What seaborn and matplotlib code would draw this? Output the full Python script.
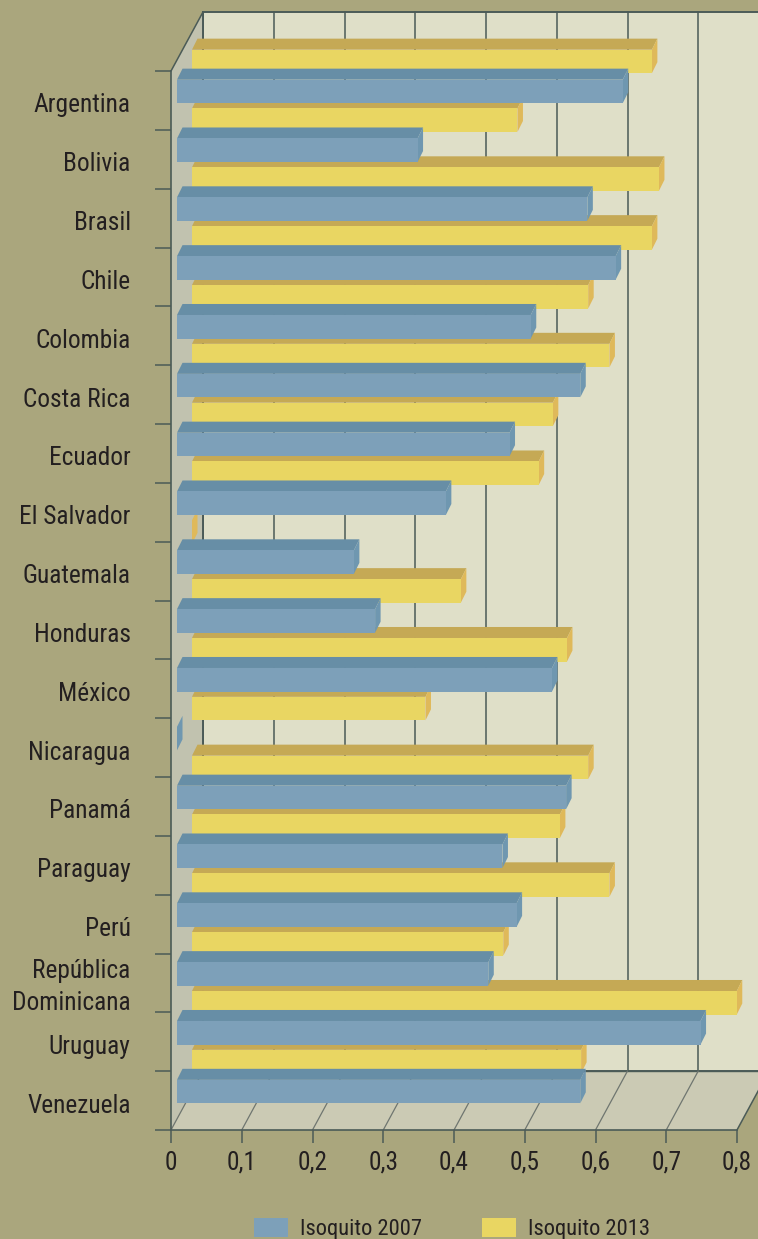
import matplotlib
matplotlib.use('Agg')
import matplotlib.pyplot as plt
from matplotlib.patches import Polygon, Patch, Rectangle
from matplotlib.transforms import Affine2D, IdentityTransform
import pandas as pd
import seaborn as sns

paises = ['Argentina', 'Bolivia', 'Brasil', 'Chile', 'Colombia', 'Costa Rica', 'Ecuador',
          'El Salvador', 'Guatemala', 'Honduras', 'México', 'Nicaragua', 'Panamá',
          'Paraguay', 'Perú', 'República\nDominicana', 'Uruguay', 'Venezuela']
isoquito_2007 = [0.63, 0.34, 0.58, 0.62, 0.50, 0.57, 0.47, 0.38, 0.25, 0.28, 0.53, 0.0,
                 0.55, 0.46, 0.48, 0.44, 0.74, 0.57]
isoquito_2013 = [0.65, 0.46, 0.66, 0.65, 0.56, 0.59, 0.51, 0.49, 0.0, 0.38, 0.53, 0.33,
                 0.56, 0.52, 0.59, 0.44, 0.77, 0.55]
x_ticks = [0, 0.1, 0.2, 0.3, 0.4, 0.5, 0.6, 0.7, 0.8]
x_labels = ['0', '0,1', '0,2', '0,3', '0,4', '0,5', '0,6', '0,7', '0,8']

W, H = 758, 1239
FONDO = '#aaa67d'
PARED = '#dfdfc8'
PISO = '#cbcab4'
PARED_IZQ = '#c1c2af'
LINEA = '#4b5b57'
TEXTO = '#231f20'
AZUL = ('#7da0b9', '#678ea6', '#6f97b0')    # front, top, side
AMARILLO = ('#e9d662', '#c5a955', '#dfb95a')
FONDO_DX, FONDO_DY = 32, 59    # depth of the whole box in pixels
BAR_DX, BAR_DY = 5.5, 11       # depth of one bar in pixels
FS = 18.3
FS_LEYENDA = 16.2

sns.set_theme(style='white')
plt.rcParams['font.family'] = ['Roboto Condensed', 'Archivo Narrow', 'Roboto', 'DejaVu Sans']

fig = plt.figure(figsize=(W / 100, H / 100), dpi=100, facecolor=FONDO)
ax = fig.add_axes([171 / W, 1 - 1130 / H, (737 - 171) / W, (1130 - 71) / H])
ax.set_facecolor('none')

df = pd.DataFrame({'pais': paises, 'i2007': isoquito_2007, 'i2013': isoquito_2013})
sns.barplot(data=df, x='i2013', y='pais', order=paises, orient='h', color=AMARILLO[0],
            saturation=1, width=0.4, linewidth=0, ax=ax)
sns.barplot(data=df, x='i2007', y='pais', order=paises, orient='h', color=AZUL[0],
            saturation=1, width=0.4, linewidth=0, ax=ax)
ax.set_xlim(0, 0.8)
ax.set_ylim(17.5, -0.5)
ax.set_xlabel('')
ax.set_ylabel('')


def poly(puntos, color, z):
    p = Polygon(puntos, closed=True, facecolor=color, edgecolor='none', linewidth=0,
                transform=IdentityTransform(), zorder=z, clip_on=False)
    ax.add_patch(p)


def linea(xs, ys, color=LINEA, lw=1.1):
    ax.plot(xs, ys, color=color, lw=lw, transform=IdentityTransform(), zorder=1, clip_on=False)


# box: back wall, left wall, floor (corners come from the axes, pushed back by the depth)
(x0, y0), (x1, y1) = ax.transAxes.transform([(0, 0), (1, 1)])
caja = ax.transAxes + Affine2D().translate(FONDO_DX, FONDO_DY)
ax.add_patch(Rectangle((0, 0), 1, 1, transform=caja, facecolor=PARED, edgecolor=LINEA,
                       linewidth=1.4, zorder=0.5, clip_on=False))
poly([(x0, y0), (x1, y0), (x1 + FONDO_DX, y0 + FONDO_DY), (x0 + FONDO_DX, y0 + FONDO_DY)], PISO, 0.6)
poly([(x0, y0), (x0, y1), (x0 + FONDO_DX, y1 + FONDO_DY), (x0 + FONDO_DX, y0 + FONDO_DY)], PARED_IZQ, 0.6)
linea([x0, x0 + FONDO_DX], [y1, y1 + FONDO_DY])
linea([x1, x1 + FONDO_DX], [y0, y0 + FONDO_DY])
linea([x0 + FONDO_DX, x0 + FONDO_DX], [y0 + FONDO_DY, y1 + FONDO_DY], lw=1.4)
linea([x0 + FONDO_DX, x1 + FONDO_DX], [y0 + FONDO_DY, y0 + FONDO_DY], lw=1.0)

# grid on the wall and on the floor
for t in x_ticks[:-1]:
    px = ax.transData.transform((t, 17.5))[0]
    if t > 0:
        linea([px + FONDO_DX, px + FONDO_DX], [y0 + FONDO_DY, y1 + FONDO_DY])
    linea([px, px + FONDO_DX], [y0, y0 + FONDO_DY], color='#6f7670', lw=0.9)


def caras(container, dx, dy, colores, z):
    desplazar = Affine2D().translate(dx, dy)
    for bar in container:
        xa, ya = ax.transData.transform((bar.get_x(), bar.get_y() + bar.get_height()))
        xb, yb = ax.transData.transform((bar.get_x() + bar.get_width(), bar.get_y()))
        xa, xb = xa + dx, xb + dx
        ya, yb = ya + dy, yb + dy
        # top face, side face, then the front bar itself moved to its depth
        poly([(xa, yb), (xb, yb), (xb + BAR_DX, yb + BAR_DY), (xa + BAR_DX, yb + BAR_DY)], colores[1], z)
        poly([(xb, ya), (xb, yb), (xb + BAR_DX, yb + BAR_DY), (xb + BAR_DX, ya + BAR_DY)], colores[2], z)
        bar.set_transform(ax.transData + desplazar)
        bar.set_clip_on(False)
        bar.set_zorder(z + 0.1)


caras(ax.containers[0], 21, 39, AMARILLO, 3)
caras(ax.containers[1], 6, 9, AZUL, 4)

# axes
sns.despine(ax=ax, top=True, right=True)
for lado in ['left', 'bottom']:
    ax.spines[lado].set_color(LINEA)
    ax.spines[lado].set_linewidth(1.2)
    ax.spines[lado].set_zorder(2)
ax.set_xticks(x_ticks)
ax.set_xticklabels(x_labels)
ax.set_yticks([i - 0.5 for i in range(19)], minor=True)
ax.tick_params(axis='y', which='minor', left=True, length=11.5, width=1.1, color=LINEA)
ax.tick_params(axis='y', which='major', left=False, pad=23, labelsize=FS, labelcolor=TEXTO)
ax.tick_params(axis='x', bottom=True, length=9, width=1.1, color=LINEA, pad=6, labelsize=FS,
               labelcolor=TEXTO)
for lab in ax.get_yticklabels():
    # the two line label sits a little higher than the rest
    dos_lineas = '\n' in lab.get_text()
    lab.set_multialignment('right')
    lab.set_linespacing(1.38)
    lab.set_transform(lab.get_transform() + Affine2D().translate(0, 2 if dos_lineas else -2.5))

handles = [Patch(facecolor=AZUL[0], edgecolor='none', linewidth=0, label='Isoquito 2007'),
           Patch(facecolor=AMARILLO[0], edgecolor='none', linewidth=0, label='Isoquito 2013')]
fig.legend(handles=handles, ncol=2, frameon=False, loc='lower left', bbox_to_anchor=(254 / W, -0.001),
           borderaxespad=0, borderpad=0, fontsize=FS_LEYENDA, handlelength=1.51, handleheight=0.98,
           handletextpad=0.53, columnspacing=2.67, labelcolor=TEXTO)

fig.savefig('out.png', dpi=100, facecolor=FONDO)
